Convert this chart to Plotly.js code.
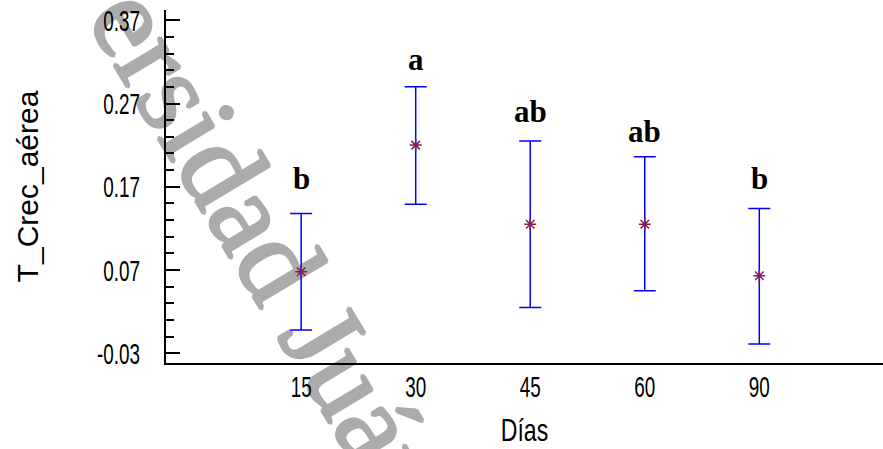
<!DOCTYPE html>
<html>
<head>
<meta charset="utf-8">
<script src="https://cdn.plot.ly/plotly-3.0.1.min.js"></script>
<style>
  html, body { margin: 0; padding: 0; background: #ffffff; }
  #chart { width: 883px; height: 449px; }
</style>
</head>
<body>
<div id="chart"></div>
<script>
// ---- data ----
const categories   = ['15', '30', '45', '60', '90'];
const means        = [0.068, 0.220, 0.125, 0.125, 0.063];
const upperLimits  = [0.138, 0.290, 0.225, 0.206, 0.144];
const lowerLimits  = [-0.002, 0.149, 0.025, 0.045, -0.019];
const groupLetters = ['b', 'a', 'ab', 'ab', 'b'];
const letterY      = [0.1805, 0.3223, 0.2598, 0.2358, 0.1805];
const yTickVals    = [-0.03, 0.07, 0.17, 0.27, 0.37];
const yTickText    = ['-0.03', '0.07', '0.17', '0.27', '0.37'];

const errPlus  = upperLimits.map((u, i) => u - means[i]);
const errMinus = lowerLimits.map((l, i) => means[i] - l);

const trace = {
  type: 'scatter',
  mode: 'markers',
  x: categories,
  y: means,
  marker: {
    symbol: 'asterisk-open',
    size: 10,
    color: '#7f1f5a',
    line: { color: '#7f1f5a', width: 1.5 }
  },
  error_y: {
    type: 'data',
    symmetric: false,
    array: errPlus,
    arrayminus: errMinus,
    color: '#0000ff',
    thickness: 1.5,
    width: 11
  },
  hoverinfo: 'none',
  showlegend: false
};

// category axis: annotation x uses the category's serial index
const letterAnnotations = categories.map((c, i) => ({
  x: i, y: letterY[i], xref: 'x', yref: 'y',
  text: groupLetters[i],
  showarrow: false,
  xanchor: 'center', yanchor: 'middle',
  font: { family: 'Liberation Serif, Times New Roman, serif', size: 31, color: '#000000', weight: 'bold' }
}));

const layout = {
  width: 883,
  height: 449,
  margin: { l: 166, r: 0, t: 10, b: 86, pad: 0 },
  paper_bgcolor: '#ffffff',
  plot_bgcolor: '#ffffff',
  showlegend: false,
  xaxis: {
    type: 'category',
    categoryorder: 'array',
    categoryarray: categories,
    range: [-1.18, 5.08],
    showline: true,
    linecolor: '#000000',
    linewidth: 2,
    ticks: '',
    showgrid: false,
    zeroline: false,
    ticklabelstandoff: -4,
    tickfont: { family: 'Liberation Sans, Arial, sans-serif', size: 30, color: '#000000' },
    title: { text: 'Días', font: { family: 'Liberation Sans, Arial, sans-serif', size: 32, color: '#000000' }, standoff: 17 }
  },
  yaxis: {
    range: [-0.0417, 0.3823],
    tickmode: 'array',
    tickvals: yTickVals,
    ticktext: yTickText,
    showline: true,
    linecolor: '#000000',
    linewidth: 2,
    ticks: 'inside',
    ticklen: 14,
    tickwidth: 2,
    tickcolor: '#000000',
    minor: { ticks: 'inside', ticklen: 8, tickwidth: 2, tickcolor: '#000000', dtick: 0.02, tick0: -0.03, showgrid: false },
    showgrid: false,
    zeroline: false,
    ticklabelstandoff: 18,
    tickfont: { family: 'Liberation Sans, Arial, sans-serif', size: 30, color: '#000000' },
    title: { text: 'T_Crec_aérea', font: { family: 'Liberation Sans, Arial, sans-serif', size: 30, color: '#000000' }, standoff: 24 }
  },
  shapes: [{
    type: 'rect', xref: 'paper', yref: 'paper',
    x0: 0.1064, x1: 0.1084, y0: 0.5231, y1: 0.5251,
    layer: 'below',
    line: { width: 0 },
    fillcolor: 'rgba(0,0,0,0)',
    label: {
      text: 'Universidad Juárez',
      textangle: 59,
      textposition: 'middle center',
      font: {
        family: 'Liberation Serif, Times New Roman, serif', size: 118, color: '#ababab',
        shadow: '1.5px 0 0 #ababab, -1.5px 0 0 #ababab, 0 1.5px 0 #ababab, 0 -1.5px 0 #ababab'
      }
    }
  }],
  annotations: letterAnnotations
};

Plotly.newPlot('chart', [trace], layout, { staticPlot: true, displayModeBar: false }).then(() => {
  const squeeze = (sel, f) => {
    document.querySelectorAll(sel).forEach(t => {
      const len = t.getComputedTextLength();
      if (len > 0) {
        t.setAttribute('textLength', (len * f).toFixed(1));
        t.setAttribute('lengthAdjust', 'spacingAndGlyphs');
      }
    });
  };
  squeeze('.xtick text', 0.63);
  squeeze('.ytick text', 0.63);
  squeeze('.g-xtitle text', 0.72);
});
</script>
</body>
</html>
